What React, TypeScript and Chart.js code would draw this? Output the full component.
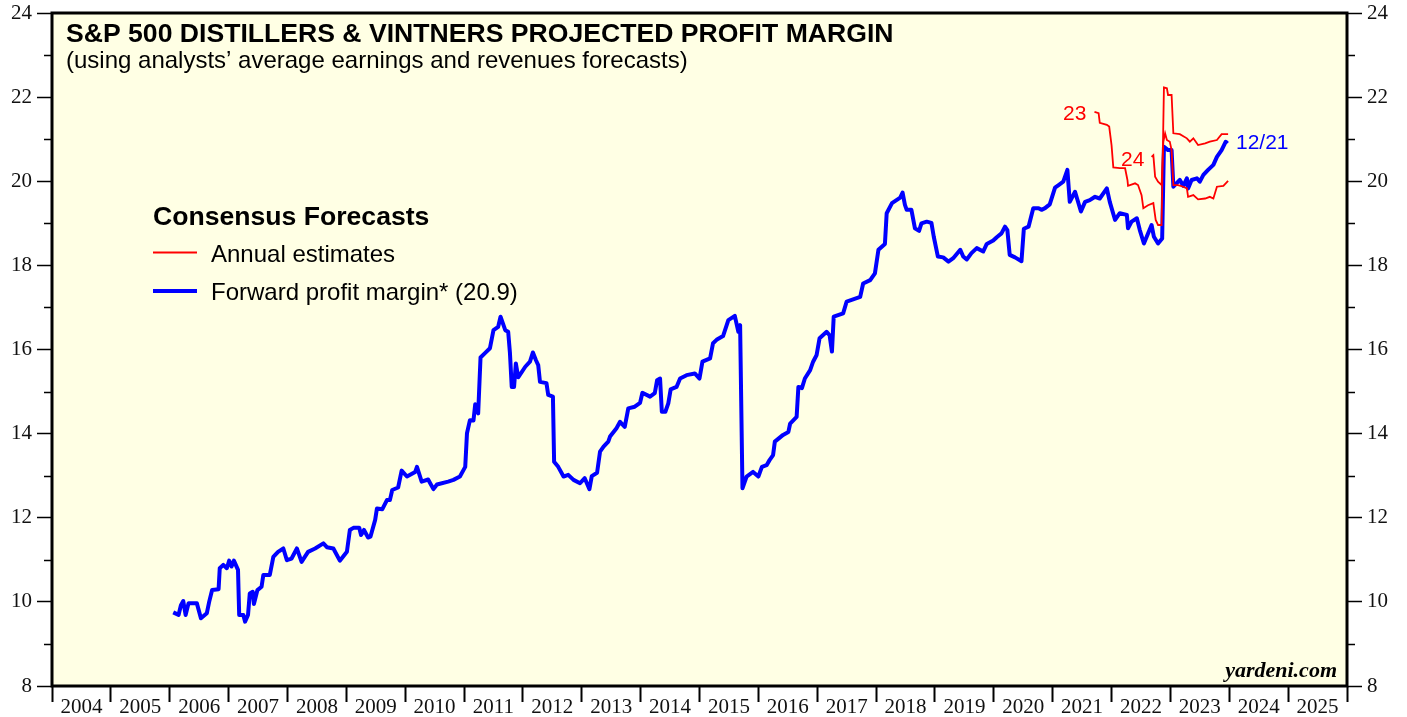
import React, { useEffect, useRef } from 'react';
import { Chart, registerables } from 'chart.js';

Chart.register(...registerables);

// ---------- text ----------
const TITLE = 'S&P 500 DISTILLERS & VINTNERS PROJECTED PROFIT MARGIN';
const SUBTITLE = '(using analysts\u2019 average earnings and revenues forecasts)';
const LEGEND_TITLE = 'Consensus Forecasts';
const LEGEND_ANNUAL = 'Annual estimates';
const LEGEND_FWD = 'Forward profit margin* (20.9)';
const LABEL_23 = '23';
const LABEL_24 = '24';
const LABEL_LAST = '12/21';
const CREDIT = 'yardeni.com';

// ---------- axes ----------
const yearLabels = ['2004', '2005', '2006', '2007', '2008', '2009', '2010', '2011', '2012', '2013', '2014',
  '2015', '2016', '2017', '2018', '2019', '2020', '2021', '2022', '2023', '2024', '2025'];
const X_MIN = 2004;
const X_MAX = 2026;
const Y_MIN = 8;
const Y_MAX = 24;

// ---------- data: forward profit margin (weekly, decimal year) ----------
const fwdYears = [
  2006.06, 2006.15, 2006.19, 2006.23, 2006.27, 2006.32, 2006.46, 2006.53, 2006.63, 2006.67,
  2006.72, 2006.83, 2006.85, 2006.91, 2006.97, 2007.01, 2007.05, 2007.09, 2007.16, 2007.18,
  2007.25, 2007.28, 2007.33, 2007.36, 2007.41, 2007.43, 2007.49, 2007.56, 2007.59, 2007.70,
  2007.76, 2007.84, 2007.93, 2007.99, 2008.07, 2008.16, 2008.24, 2008.35, 2008.47, 2008.61,
  2008.67, 2008.78, 2008.89, 2009.01, 2009.06, 2009.12, 2009.22, 2009.25, 2009.30, 2009.37,
  2009.41, 2009.49, 2009.52, 2009.61, 2009.69, 2009.74, 2009.78, 2009.88, 2009.94, 2010.03,
  2010.17, 2010.20, 2010.28, 2010.39, 2010.48, 2010.54, 2010.73, 2010.82, 2010.93, 2011.02,
  2011.05, 2011.10, 2011.16, 2011.19, 2011.24, 2011.28, 2011.36, 2011.44, 2011.50, 2011.58,
  2011.62, 2011.70, 2011.75, 2011.78, 2011.81, 2011.85, 2011.88, 2011.92, 2012.04, 2012.12,
  2012.17, 2012.22, 2012.26, 2012.29, 2012.40, 2012.43, 2012.51, 2012.53, 2012.60, 2012.69,
  2012.77, 2012.86, 2012.97, 2013.05, 2013.13, 2013.17, 2013.26, 2013.31, 2013.37, 2013.45,
  2013.48, 2013.59, 2013.65, 2013.73, 2013.79, 2013.90, 2013.99, 2014.03, 2014.16, 2014.24,
  2014.28, 2014.33, 2014.36, 2014.42, 2014.47, 2014.51, 2014.61, 2014.67, 2014.78, 2014.92,
  2015.00, 2015.05, 2015.18, 2015.23, 2015.29, 2015.40, 2015.49, 2015.60, 2015.66, 2015.69,
  2015.73, 2015.80, 2015.91, 2016.00, 2016.06, 2016.14, 2016.19, 2016.25, 2016.28, 2016.42,
  2016.51, 2016.54, 2016.65, 2016.68, 2016.74, 2016.79, 2016.88, 2016.93, 2016.99, 2017.04,
  2017.16, 2017.21, 2017.25, 2017.28, 2017.44, 2017.50, 2017.67, 2017.73, 2017.78, 2017.90,
  2017.98, 2018.04, 2018.15, 2018.18, 2018.27, 2018.41, 2018.45, 2018.49, 2018.52, 2018.60,
  2018.66, 2018.73, 2018.77, 2018.86, 2018.94, 2018.98, 2019.05, 2019.14, 2019.23, 2019.31,
  2019.43, 2019.48, 2019.54, 2019.62, 2019.71, 2019.82, 2019.88, 2019.99, 2020.05, 2020.13,
  2020.19, 2020.23, 2020.27, 2020.36, 2020.47, 2020.51, 2020.59, 2020.67, 2020.76, 2020.81,
  2020.87, 2020.95, 2021.04, 2021.10, 2021.18, 2021.25, 2021.29, 2021.38, 2021.48, 2021.55,
  2021.63, 2021.72, 2021.80, 2021.92, 2021.97, 2022.06, 2022.14, 2022.26, 2022.28, 2022.34,
  2022.43, 2022.48, 2022.55, 2022.62, 2022.68, 2022.72, 2022.79, 2022.86, 2022.89, 2022.96,
  2023.02, 2023.05, 2023.16, 2023.22, 2023.28, 2023.30, 2023.36, 2023.45, 2023.50, 2023.56,
  2023.64, 2023.73, 2023.79, 2023.87, 2023.94, 2023.97,
];
const fwdValues = [
  9.75, 9.69, 9.92, 10.02, 9.69, 9.97, 9.97, 9.61, 9.73, 10.00,
  10.28, 10.30, 10.80, 10.88, 10.80, 10.98, 10.84, 10.98, 10.76, 9.69,
  9.69, 9.53, 9.69, 10.20, 10.24, 9.95, 10.28, 10.36, 10.64, 10.64,
  11.07, 11.19, 11.27, 10.99, 11.03, 11.27, 10.95, 11.19, 11.27, 11.39,
  11.30, 11.27, 10.98, 11.19, 11.71, 11.76, 11.76, 11.59, 11.71, 11.53,
  11.55, 11.95, 12.22, 12.20, 12.42, 12.42, 12.66, 12.72, 13.12, 12.98,
  13.09, 13.21, 12.86, 12.91, 12.68, 12.79, 12.86, 12.90, 12.98, 13.21,
  14.01, 14.32, 14.31, 14.70, 14.48, 15.81, 15.92, 16.03, 16.46, 16.54,
  16.78, 16.46, 16.42, 15.91, 15.11, 15.11, 15.67, 15.34, 15.59, 15.71,
  15.93, 15.75, 15.63, 15.23, 15.20, 14.92, 14.88, 13.33, 13.21, 12.98,
  13.02, 12.90, 12.82, 12.94, 12.68, 12.99, 13.07, 13.57, 13.69, 13.81,
  13.93, 14.13, 14.28, 14.16, 14.60, 14.64, 14.73, 14.97, 14.88, 14.96,
  15.27, 15.31, 14.52, 14.52, 14.72, 15.05, 15.11, 15.31, 15.39, 15.43,
  15.31, 15.71, 15.79, 16.15, 16.23, 16.32, 16.70, 16.80, 16.42, 16.58,
  12.70, 12.98, 13.09, 12.98, 13.21, 13.25, 13.37, 13.49, 13.81, 13.97,
  14.04, 14.24, 14.40, 15.11, 15.08, 15.31, 15.51, 15.71, 15.87, 16.27,
  16.42, 16.34, 15.95, 16.78, 16.86, 17.14, 17.22, 17.25, 17.57, 17.65,
  17.81, 18.37, 18.51, 19.24, 19.48, 19.61, 19.73, 19.44, 19.32, 19.32,
  18.88, 18.82, 19.00, 19.04, 19.01, 18.68, 18.21, 18.19, 18.09, 18.17,
  18.37, 18.21, 18.14, 18.29, 18.41, 18.33, 18.51, 18.59, 18.67, 18.76,
  18.92, 18.84, 18.25, 18.19, 18.10, 18.87, 18.92, 19.36, 19.36, 19.32,
  19.36, 19.45, 19.85, 19.91, 19.99, 20.27, 19.51, 19.75, 19.28, 19.51,
  19.55, 19.63, 19.59, 19.83, 19.51, 19.08, 19.24, 19.20, 18.88, 19.04,
  19.12, 18.84, 18.52, 18.76, 18.96, 18.68, 18.52, 18.64, 20.82, 20.74,
  20.74, 19.87, 20.03, 19.89, 20.07, 19.83, 20.03, 20.07, 19.99, 20.15,
  20.27, 20.39, 20.58, 20.74, 20.94, 20.90,
];

// ---------- data: annual estimates ----------
const est23Years = [
  2021.71, 2021.78, 2021.80, 2021.92, 2021.96, 2022.00, 2022.03, 2022.14, 2022.23, 2022.27,
  2022.28, 2022.40, 2022.45, 2022.51, 2022.54, 2022.62, 2022.71, 2022.75, 2022.79, 2022.85,
  2022.89, 2022.94, 2022.96, 2023.02, 2023.05, 2023.16, 2023.28, 2023.33, 2023.39, 2023.47,
  2023.59, 2023.67, 2023.79, 2023.87, 2023.98,
];
const est23Values = [
  21.65, 21.62, 21.39, 21.34, 21.30, 20.86, 20.33, 20.31, 20.31, 20.03,
  19.89, 19.95, 19.91, 19.67, 19.36, 19.43, 19.48, 19.08, 18.96, 18.96,
  22.23, 22.21, 22.05, 22.05, 21.14, 21.12, 21.02, 20.94, 21.02, 20.86,
  20.90, 20.94, 20.98, 21.12, 21.12,
];
const est24Years = [
  2022.68, 2022.71, 2022.74, 2022.79, 2022.85, 2022.88, 2022.91, 2022.94, 2022.99, 2023.02,
  2023.05, 2023.13, 2023.22, 2023.28, 2023.30, 2023.39, 2023.47, 2023.59, 2023.67, 2023.73,
  2023.79, 2023.90, 2023.98,
];
const est24Values = [
  20.58, 20.62, 20.11, 19.99, 19.91, 20.94, 21.14, 20.98, 20.94, 20.74,
  19.91, 19.91, 19.87, 19.83, 19.63, 19.67, 19.57, 19.59, 19.63, 19.59,
  19.87, 19.89, 20.01,
];

// ---------- style ----------
const SANS = "'Liberation Sans', Arial, Helvetica, sans-serif";
const SERIF = "'Liberation Serif', 'Times New Roman', Times, serif";
const PLOT_BG = 'rgb(255,255,228)';
const RED = 'rgb(255,0,0)';
const BLUE = 'rgb(0,0,255)';

const toPoints = (xs: number[], ys: number[]) => xs.map((x, i) => ({ x, y: ys[i] }));

const decorPlugin = {
  id: 'decor',
  beforeDraw(chart: any) {
    const { ctx, chartArea: a } = chart;
    ctx.save();
    ctx.fillStyle = PLOT_BG;
    ctx.fillRect(a.left, a.top, a.right - a.left, a.bottom - a.top);
    ctx.restore();
  },
  afterDraw(chart: any) {
    const { ctx, chartArea: a } = chart;
    const y = chart.scales.y;
    ctx.save();
    // frame
    ctx.strokeStyle = '#000';
    ctx.lineWidth = 3;
    ctx.strokeRect(a.left, a.top, a.right - a.left, a.bottom - a.top);
    // minor ticks at odd values
    ctx.lineWidth = 1.5;
    for (let v = Y_MIN + 1; v < Y_MAX; v += 2) {
      const py = Math.round(y.getPixelForValue(v)) + 0.5;
      ctx.beginPath();
      ctx.moveTo(a.left - 8, py);
      ctx.lineTo(a.left, py);
      ctx.moveTo(a.right, py);
      ctx.lineTo(a.right + 8, py);
      ctx.stroke();
    }
    // titles
    ctx.fillStyle = '#000';
    ctx.textAlign = 'left';
    ctx.textBaseline = 'alphabetic';
    ctx.font = `bold 26.6px ${SANS}`;
    ctx.fillText(TITLE, 66, 42);
    ctx.font = `24px ${SANS}`;
    ctx.fillText(SUBTITLE, 66, 68);
    // legend
    ctx.font = `bold 26.6px ${SANS}`;
    ctx.fillText(LEGEND_TITLE, 153, 225);
    ctx.strokeStyle = RED;
    ctx.lineWidth = 2;
    ctx.beginPath();
    ctx.moveTo(153, 252.5);
    ctx.lineTo(197, 252.5);
    ctx.stroke();
    ctx.strokeStyle = BLUE;
    ctx.lineWidth = 4;
    ctx.beginPath();
    ctx.moveTo(153, 291);
    ctx.lineTo(197, 291);
    ctx.stroke();
    ctx.font = `24px ${SANS}`;
    ctx.fillText(LEGEND_ANNUAL, 211, 262);
    ctx.fillText(LEGEND_FWD, 211, 300);
    // series labels
    ctx.font = `21px ${SANS}`;
    ctx.fillStyle = RED;
    ctx.fillText(LABEL_23, 1063, 120);
    ctx.fillText(LABEL_24, 1121, 166);
    ctx.fillStyle = BLUE;
    ctx.fillText(LABEL_LAST, 1236, 149);
    // credit
    ctx.fillStyle = '#000';
    ctx.font = `italic bold 22px ${SERIF}`;
    ctx.textAlign = 'right';
    ctx.fillText(CREDIT, 1337, 677);
    ctx.restore();
  },
};

export default function App() {
  const canvasRef = useRef<HTMLCanvasElement>(null);

  useEffect(() => {
    document.body.style.margin = '0';
    const canvas = canvasRef.current!;
    const yTicks = (position: 'left' | 'right', width: number) => ({
      type: 'linear',
      position,
      min: Y_MIN,
      max: Y_MAX,
      afterFit: (s: any) => { s.width = width; s.paddingTop = 0; s.paddingBottom = 0; },
      border: { display: false },
      grid: {
        drawOnChartArea: false,
        drawTicks: true,
        tickLength: 15,
        tickWidth: 1.5,
        tickColor: (c: any) => (c.tick && c.tick.value % 2 === 0 ? '#000' : 'rgba(0,0,0,0)'),
      },
      ticks: {
        stepSize: 1,
        autoSkip: false,
        padding: 5,
        color: '#111',
        font: { family: SERIF, size: 21 },
        callback: (v: any) => (Number(v) % 2 === 0 ? String(v) : ''),
      },
    });

    const chart = new Chart(canvas, {
      type: 'line',
      data: {
        datasets: [
          {
            label: '2023',
            data: toPoints(est23Years, est23Values),
            borderColor: RED,
            borderWidth: 1.8,
            pointRadius: 0,
            tension: 0,
          },
          {
            label: '2024',
            data: toPoints(est24Years, est24Values),
            borderColor: RED,
            borderWidth: 1.8,
            pointRadius: 0,
            tension: 0,
          },
          {
            label: 'Forward profit margin',
            data: toPoints(fwdYears, fwdValues),
            borderColor: BLUE,
            borderWidth: 4,
            borderJoinStyle: 'round',
            pointRadius: 0,
            tension: 0,
          },
        ],
      },
      options: {
        responsive: false,
        animation: false,
        devicePixelRatio: 1,
        layout: { padding: { top: 13, left: 0, right: 0, bottom: 0 } },
        plugins: { legend: { display: false }, tooltip: { enabled: false }, title: { display: false } },
        scales: {
          x: {
            type: 'linear',
            position: 'bottom',
            min: X_MIN,
            max: X_MAX,
            afterFit: (s: any) => { s.height = 31; s.paddingLeft = 0; s.paddingRight = 0; },
            border: { display: false },
            grid: {
              drawOnChartArea: false,
              drawTicks: true,
              tickLength: 16,
              tickWidth: 2,
              tickColor: (c: any) => (c.tick && Number.isInteger(c.tick.value) ? '#000' : 'rgba(0,0,0,0)'),
            },
            ticks: {
              stepSize: 0.5,
              autoSkip: false,
              maxRotation: 0,
              minRotation: 0,
              padding: -7,
              color: '#111',
              font: { family: SERIF, size: 21 },
              callback: (v: any) => {
                const n = Number(v);
                return Number.isInteger(n) ? '' : yearLabels[Math.floor(n) - X_MIN] ?? '';
              },
            },
          },
          y: yTicks('left', 52) as any,
          y2: yTicks('right', 60) as any,
        },
      } as any,
      plugins: [decorPlugin],
    });
    return () => chart.destroy();
  }, []);

  return (
    <div style={{ width: 1407, height: 717 }}>
      <canvas ref={canvasRef} width={1407} height={717} style={{ display: 'block' }} />
    </div>
  );
}
